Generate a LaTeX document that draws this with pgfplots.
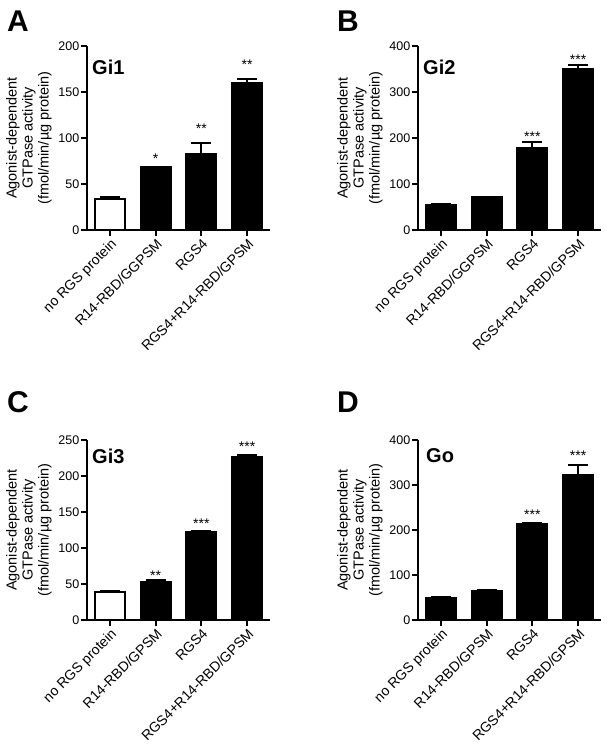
\documentclass[border=0pt]{standalone}
\usepackage{fontspec}
\setmainfont{Liberation Sans}
\usepackage{pgfplots}
\pgfplotsset{compat=1.18}
\pgfplotsset{
 panel/.style={
  anchor=south west,
  scale only axis, width=183pt,
  axis x line*=bottom, axis y line*=left,
  axis line style={line width=2pt, -},
  xmin=-0.5, xmax=3.5, ymin=0,
  xtick={0,1,2,3},
  xticklabel style={rotate=45, anchor=north east, font=\fontsize{14}{16}\selectfont, inner sep=1pt},
  yticklabel style={font=\fontsize{12.5}{14}\selectfont, inner sep=1.5pt},
  /pgf/number format/assume math mode=true,
  tick align=outside, major tick length=6pt, tick style={line width=2pt, black},
  ylabel={Agonist-dependent\\GTPase activity\\(fmol/min/µg protein)},
  ylabel style={align=center, font=\fontsize{14.5}{16}\selectfont, at={(axis description cs:-0.317,0.5)}, anchor=center},
  ybar, bar width=30pt,
  clip=false,
 },
 blackbar/.style={bar shift=0pt, fill=black, draw=black, line width=2pt,
   error bars/.cd, y dir=plus, y explicit,
   error mark options={rotate=90, line width=2pt, mark size=10pt, black},
   error bar style={line width=2pt, black}},
 whitebar/.style={bar shift=0pt, fill=white, draw=black, line width=2pt,
   error bars/.cd, y dir=plus, y explicit,
   error mark options={rotate=90, line width=2pt, mark size=10pt, black},
   error bar style={line width=2pt, black}},
}
\tikzset{
 star/.style={anchor=north, font=\fontsize{14}{14}\selectfont, inner sep=0pt},
 ttl/.style={anchor=north west, font=\bfseries\fontsize{20}{20}\selectfont, inner sep=0pt},
}
\begin{document}
\begin{tikzpicture}
\path[use as bounding box] (0pt,0pt) rectangle (606pt,750pt);
\node[anchor=base west, inner sep=0pt, font=\bfseries\fontsize{30}{30}\selectfont] at (7pt,718pt) {A};
\node[anchor=base west, inner sep=0pt, font=\bfseries\fontsize{30}{30}\selectfont] at (337pt,718pt) {B};
\node[anchor=base west, inner sep=0pt, font=\bfseries\fontsize{30}{30}\selectfont] at (7pt,337pt) {C};
\node[anchor=base west, inner sep=0pt, font=\bfseries\fontsize{30}{30}\selectfont] at (337pt,337pt) {D};

% Panel A
\begin{axis}[panel, at={(87pt,520pt)}, height=184pt, ymax=200, ytick={0,50,100,150,200},
  xticklabels={no RGS protein, R14-RBD/GGPSM, RGS4, RGS4+R14-RBD/GPSM}]
\addplot[whitebar] coordinates {(0,34) +- (0,2)};
\addplot[blackbar] coordinates {(1,68) +- (0,1) (2,83) +- (0,12) (3,160) +- (0,4)};
\node[ttl, xshift=5pt, yshift=-14pt] at (axis description cs:0,1) {Gi1};
\node[star, yshift=13pt] at (axis cs:1,69) {*};
\node[star, yshift=19pt] at (axis cs:2,95) {**};
\node[star, yshift=19pt] at (axis cs:3,164) {**};
\end{axis}

% Panel B
\begin{axis}[panel, at={(418pt,520pt)}, height=184pt, ymax=400, ytick={0,100,200,300,400},
  xticklabels={no RGS protein, R14-RBD/GGPSM, RGS4, RGS4+R14-RBD/GPSM}]
\addplot[blackbar] coordinates {(0,55) +- (0,1) (1,71) +- (0,1) (2,178) +- (0,14) (3,351) +- (0,7)};
\node[ttl, xshift=5pt, yshift=-14pt] at (axis description cs:0,1) {Gi2};
\node[star, yshift=10pt] at (axis cs:2,192) {***};
\node[star, yshift=11pt] at (axis cs:3,358) {***};
\end{axis}

% Panel C
\begin{axis}[panel, at={(87pt,130pt)}, height=180pt, ymax=250, ytick={0,50,100,150,200,250},
  xticklabels={no RGS protein, R14-RBD/GPSM, RGS4, RGS4+R14-RBD/GPSM}]
\addplot[whitebar] coordinates {(0,39.5) +- (0,1)};
\addplot[blackbar] coordinates {(1,53) +- (0,2) (2,122) +- (0,1) (3,227) +- (0,2)};
\node[ttl, xshift=5pt, yshift=-9pt] at (axis description cs:0,1) {Gi3};
\node[star, yshift=10pt] at (axis cs:1,55) {**};
\node[star, yshift=13pt] at (axis cs:2,123) {***};
\node[star, yshift=13pt] at (axis cs:3,229) {***};
\end{axis}

% Panel D
\begin{axis}[panel, at={(418pt,130pt)}, height=180pt, ymax=400, ytick={0,100,200,300,400},
  xticklabels={no RGS protein, R14-RBD/GPSM, RGS4, RGS4+R14-RBD/GPSM}]
\addplot[blackbar] coordinates {(0,49) +- (0,1) (1,65) +- (0,1) (2,213) +- (0,3) (3,322) +- (0,22)};
\node[ttl, xshift=8pt, yshift=-8pt] at (axis description cs:0,1) {Go};
\node[star, yshift=13pt] at (axis cs:2,216) {***};
\node[star, yshift=15pt] at (axis cs:3,344) {***};
\end{axis}
\end{tikzpicture}
\end{document}
